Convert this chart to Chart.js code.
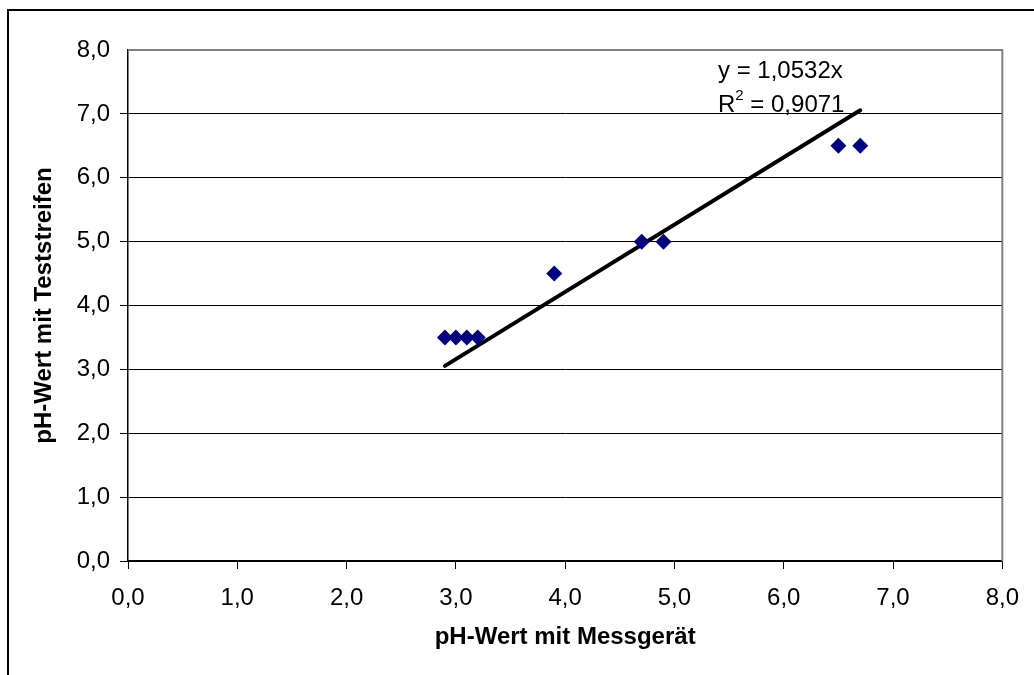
<!DOCTYPE html>
<html>
<head>
<meta charset="utf-8">
<script src="https://cdn.jsdelivr.net/npm/chart.js@4/dist/chart.umd.min.js"></script>
<style>
  html, body { margin: 0; padding: 0; background: #fff; }
  canvas { display: block; }
</style>
</head>
<body>
<canvas id="phChart" width="1034" height="675"></canvas>
<script>
// Messwerte: pH mit Messgerät (x) vs. pH mit Teststreifen (y)
const messgeraet = [2.9, 3.0, 3.1, 3.2, 3.9, 4.7, 4.9, 6.5, 6.7];
const teststreifen = [3.5, 3.5, 3.5, 3.5, 4.5, 5.0, 5.0, 6.5, 6.5];

// linearer Trend durch den Ursprung
const slope = 1.0532;
const trendX = [2.9, 6.7];
const equationLines = ['y = 1,0532x', 'R', '2', ' = 0,9071'];

const xTickLabels = ['0,0', '1,0', '2,0', '3,0', '4,0', '5,0', '6,0', '7,0', '8,0'];
const yTickLabels = ['0,0', '1,0', '2,0', '3,0', '4,0', '5,0', '6,0', '7,0', '8,0'];

const FONT = '"Liberation Sans", Arial, sans-serif';

const points = messgeraet.map((x, i) => ({ x: x, y: teststreifen[i] }));
const trend = trendX.map(x => ({ x: x, y: slope * x }));

const frame = {
    id: 'frame',
    beforeDraw(chart) {
        const ctx = chart.ctx;
        ctx.save();
        ctx.strokeStyle = '#000';
        ctx.lineWidth = 2;
        ctx.beginPath();
        ctx.moveTo(8, 675);
        ctx.lineTo(8, 10);
        ctx.lineTo(1034, 10);
        ctx.stroke();
        ctx.restore();
    },
    afterDraw(chart) {
        const ctx = chart.ctx;
        const a = chart.chartArea;
        ctx.save();
        ctx.strokeStyle = '#808080';
        ctx.lineWidth = 2;
        ctx.beginPath();
        ctx.moveTo(a.left, a.top);
        ctx.lineTo(a.right, a.top);
        ctx.lineTo(a.right, a.bottom);
        ctx.stroke();

        // Trendlinien-Beschriftung
        ctx.fillStyle = '#000';
        ctx.textBaseline = 'alphabetic';
        ctx.font = '24px ' + FONT;
        const tx = 718;
        ctx.fillText(equationLines[0], tx, 78);
        ctx.fillText(equationLines[1], tx, 112);
        const rw = ctx.measureText(equationLines[1]).width;
        ctx.font = '15px ' + FONT;
        ctx.fillText(equationLines[2], tx + rw, 100);
        const sw = ctx.measureText(equationLines[2]).width;
        ctx.font = '24px ' + FONT;
        ctx.fillText(equationLines[3], tx + rw + sw, 112);
        ctx.restore();
    }
};

new Chart(document.getElementById('phChart'), {
    type: 'scatter',
    data: {
        datasets: [{
            label: 'Messwerte',
            data: points,
            pointStyle: 'rectRot',
            pointRadius: 8,
            backgroundColor: '#000080',
            borderColor: '#000080',
            borderWidth: 0,
            order: 1
        }, {
            type: 'line',
            label: 'Trend',
            data: trend,
            borderColor: '#000',
            borderWidth: 4,
            borderCapStyle: 'round',
            pointRadius: 0,
            fill: false,
            order: 2
        }]
    },
    options: {
        responsive: false,
        animation: false,
        events: [],
        layout: { padding: { top: 50, right: 30, left: 0, bottom: 0 } },
        plugins: {
            legend: { display: false },
            tooltip: { enabled: false }
        },
        scales: {
            x: {
                type: 'linear',
                min: 0,
                max: 8,
                afterFit: s => { s.height = 114; },
                ticks: {
                    stepSize: 1,
                    padding: 15,
                    color: '#000',
                    font: { family: FONT, size: 24 },
                    callback: (v, i) => xTickLabels[i]
                },
                grid: { drawOnChartArea: false, drawTicks: true, tickLength: 8, color: '#000' },
                border: { display: true, color: '#000', width: 1.5 },
                title: {
                    display: true,
                    text: 'pH-Wert mit Messgerät',
                    color: '#000',
                    font: { family: FONT, size: 24, weight: 'bold' },
                    padding: { top: 0, bottom: 23 }
                }
            },
            y: {
                min: 0,
                max: 8,
                afterFit: s => { s.width = 128; },
                ticks: {
                    stepSize: 1,
                    padding: 10,
                    color: '#000',
                    font: { family: FONT, size: 24 },
                    callback: (v, i) => yTickLabels[i]
                },
                grid: {
                    tickLength: 8,
                    lineWidth: 1,
                    color: c => (c.tick && c.tick.value === 8 ? 'rgba(0,0,0,0)' : '#000')
                },
                border: { display: true, color: '#000', width: 1.5 },
                title: {
                    display: true,
                    text: 'pH-Wert mit Teststreifen',
                    color: '#000',
                    font: { family: FONT, size: 24, weight: 'bold' },
                    padding: { top: 30, bottom: 0 }
                }
            }
        }
    },
    plugins: [frame]
});
</script>
</body>
</html>
